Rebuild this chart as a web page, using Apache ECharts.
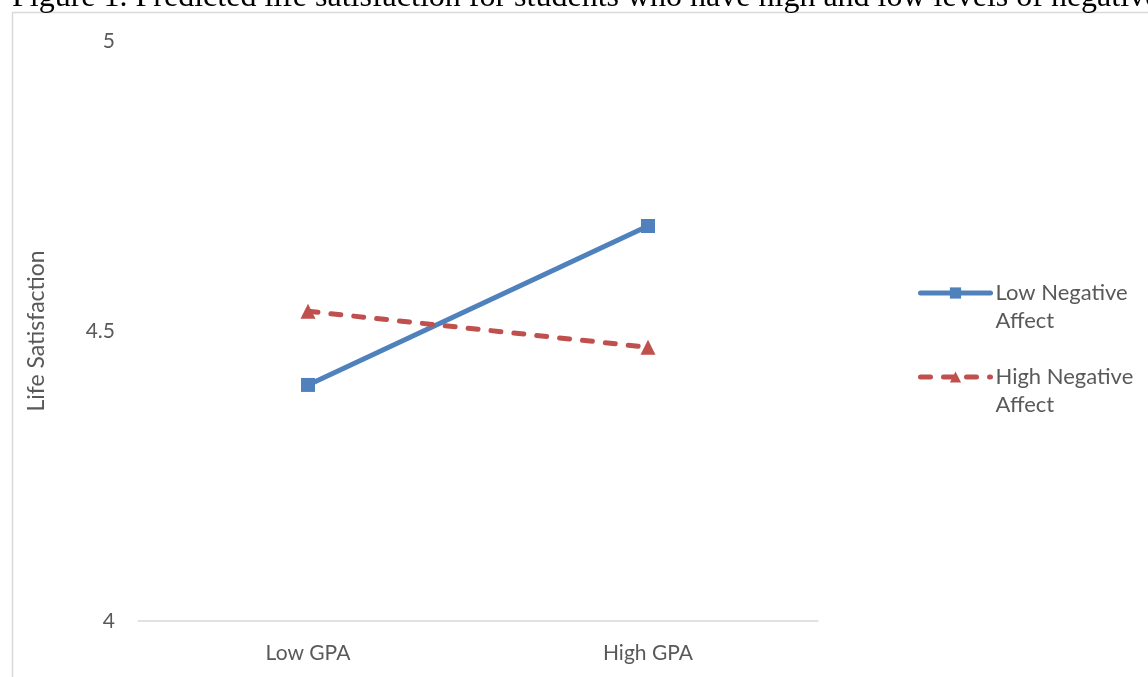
<!DOCTYPE html>
<html>
<head>
<meta charset="utf-8">
<script src="https://cdn.jsdelivr.net/npm/echarts@6/dist/echarts.min.js"></script>
<style>
  html, body { margin: 0; padding: 0; background: #fff; }
  #chart { width: 1148px; height: 677px; }
</style>
</head>
<body>
<div id="chart"></div>
<script>
// Categories and predicted values
const categories = ['Low GPA', 'High GPA'];
const lowNegativeAffect = [4.407, 4.681];
const highNegativeAffect = [4.534, 4.472];
const seriesNames = ['Low Negative\nAffect', 'High Negative\nAffect'];
const yTicks = { min: 4, max: 5, interval: 0.5 };

const captionText = 'Figure 1. Predicted life satisfaction for students who have high and low levels of negative affect';

const blue = '#4f81bd';
const red = '#c0504d';
const labelColor = '#595959';
const bodyFont = 'Lato, "Open Sans", sans-serif';
const redDash = [10, 13];

const chart = echarts.init(document.getElementById('chart'), null, { renderer: 'canvas' });

chart.setOption({
  animation: false,
  backgroundColor: '#ffffff',
  graphic: [
    {
      type: 'text',
      x: 12,
      y: -2.5,
      style: {
        text: captionText,
        font: '32px "Liberation Serif", "Times New Roman", serif',
        fill: '#000000',
        align: 'left',
        verticalAlign: 'middle'
      },
      z: 10
    },
    {
      type: 'rect',
      shape: { x: 12.5, y: 12.5, width: 1300, height: 800 },
      style: { fill: 'none', stroke: '#d9d9d9', lineWidth: 1.5 },
      z: 1
    }
  ],
  grid: { left: 138, right: 330, top: 41, bottom: 56 },
  legend: {
    orient: 'vertical',
    left: 918,
    top: 251,
    padding: 0,
    itemWidth: 70,
    itemHeight: 14,
    itemGap: 0,
    data: [
      { name: seriesNames[0], lineStyle: { width: 5, cap: 'round' } },
      { name: seriesNames[1], lineStyle: { width: 5, type: redDash, cap: 'round' } }
    ],
    // an empty first line keeps the marker level with the first line of the name
    formatter: (name) => ' \n' + name,
    textStyle: {
      color: labelColor,
      fontFamily: bodyFont,
      fontSize: 22,
      lineHeight: 28
    }
  },
  xAxis: {
    type: 'category',
    data: categories,
    boundaryGap: true,
    axisLine: { show: true, lineStyle: { color: '#d9d9d9', width: 1.5 } },
    axisTick: { show: false },
    axisLabel: { color: labelColor, fontFamily: bodyFont, fontSize: 21, margin: 22 }
  },
  yAxis: {
    type: 'value',
    min: yTicks.min,
    max: yTicks.max,
    interval: yTicks.interval,
    name: 'Life Satisfaction',
    nameLocation: 'middle',
    nameGap: 90,
    nameRotate: 90,
    nameTextStyle: { color: labelColor, fontFamily: bodyFont, fontSize: 23 },
    axisLine: { show: false },
    axisTick: { show: false },
    splitLine: { show: false },
    axisLabel: { color: labelColor, fontFamily: bodyFont, fontSize: 21, margin: 23 }
  },
  series: [
    {
      name: seriesNames[0],
      type: 'line',
      data: lowNegativeAffect,
      symbol: 'rect',
      symbolSize: 14,
      itemStyle: { color: blue },
      lineStyle: { color: blue, width: 5, cap: 'round' }
    },
    {
      name: seriesNames[1],
      type: 'line',
      data: highNegativeAffect,
      symbol: 'triangle',
      symbolSize: 15,
      itemStyle: { color: red },
      lineStyle: { color: red, width: 5, type: redDash, cap: 'round' }
    }
  ]
});
</script>
</body>
</html>
